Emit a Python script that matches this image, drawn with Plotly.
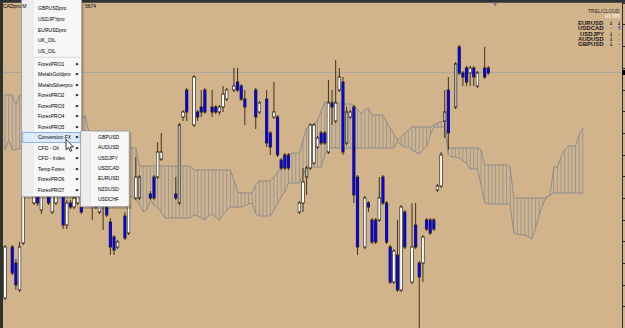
import plotly.graph_objects as go

# ---------------- data (price levels, arbitrary units) ----------------
bar_index = list(range(134))
open_ = [30, None, 81, 65, 38, 85, None, None, 125, 143,
         118, None, 138, 116, 125, None, 133, 103, 125, 121,
         125, 121, None, None, 133, 130, 116, 133, 128, 106,
         91, 81, None, 112, 95, None, 130, 130, None, None,
         134, 151, 151, 169, None, None, None, 134, 125, 211,
         238, None, 203, 216, 221, 238, None, 221, 221, 216,
         221, 229, None, 238, 246, 242, 229, None, None, 238,
         216, None, 229, 195, 211, 211, 168, 173, 173, None,
         None, 116, 125, 151, 160, 165, 181, 195, 195, 176,
         225, 207, 238, 246, 185, 211, 221, 151, None, 81,
         125, 108, 108, 108, 151, 125, 81, 46, 73, 38,
         116, None, 46, 103, 65, 65, 108, 108, 108, 138,
         142, 207, 238, None, 221, 281, 255, 260, 255, 260,
         242, None, 260, 260]
high = [83, None, 83, 69, 86, 143, None, None, 148, 146,
        140, None, 141, 142, 141, None, 136, 128, 128, 133,
        135, 124, None, None, 136, 133, 134, 136, 131, 110,
        93, 88, None, 116, 126, None, 171, 153, None, None,
        137, 153, 186, 195, None, None, None, 151, 205, 218,
        240, None, 253, 218, 238, 240, None, 238, 223, 223,
        242, 240, None, 260, 260, 244, 238, None, None, 240,
        227, None, 238, 197, 246, 213, 170, 175, 175, None,
        None, 127, 160, 162, 205, 205, 192, 197, 197, 248,
        238, 268, 260, 251, 221, 218, 223, 153, None, 132,
        127, 110, 110, 151, 153, 127, 83, 79, 108, 123,
        118, None, 125, 125, 67, 93, 110, 110, 110, 144,
        176, 238, 251, None, 266, 283, 257, 262, 262, 262,
        257, None, 281, 262]
low = [28, None, 53, 38, 36, 83, None, None, 123, 122,
       114, None, 123, 114, 123, None, 99, 99, 119, 119,
       123, 114, None, None, 108, 119, 114, 98, 111, 73,
       73, 79, None, 88, 93, None, 128, 128, None, None,
       128, 128, 149, 167, None, None, None, 128, 123, 207,
       207, None, 201, 207, 211, 214, None, 211, 214, 213,
       216, 227, None, 236, 236, 227, 203, None, None, 199,
       214, None, 181, 173, 209, 171, 158, 158, 158, None,
       None, 114, 116, 133, 158, 163, 179, 183, 183, 174,
       203, 205, 236, 173, 183, 209, 125, 73, None, 79,
       116, 84, 84, 106, 123, 84, 44, 44, 36, 36,
       79, None, 44, 79, -2, 46, 97, 93, 97, 136,
       140, 190, 178, None, 219, 253, 242, 242, 242, 242,
       240, None, 249, 253]
close = [81, None, 55, 43, 81, 138, None, None, 143, 125,
         136, None, 125, 138, 138, None, 103, 125, 121, 130,
         132, 116, None, None, 122, 121, 131, 123, 113, 81,
         78, 86, None, 90, 123, None, 151, 151, None, None,
         130, 130, 176, 176, None, None, None, 130, 203, 216,
         216, None, 251, 211, 216, 216, None, 216, 216, 221,
         234, 238, None, 242, 238, 229, 221, None, None, 211,
         225, None, 185, 181, 216, 173, 160, 160, 160, None,
         None, 125, 146, 160, 203, 203, 190, 185, 185, 225,
         221, 225, 251, 176, 216, 216, 133, 81, None, 130,
         121, 86, 86, 130, 125, 86, 46, 77, 38, 121,
         81, None, 81, 81, 51, 91, 99, 95, 99, 142,
         173, 216, 195, None, 264, 255, 251, 246, 260, 251,
         255, None, 251, 255]
gray_bars = [37, 48, 83, 94, 121, 124]

cloud_index = list(range(160))
span_a = [233, 233, 233, 223, 233, 233, 230, 228, 228, 226,
          226, 223, 223, 220, 220, 218, 218, 216, 216, 213,
          203, 208, 213, 198, 193, 190, 188, 188, 186, 183,
          183, 182, 180, 180, 180, 180, 180, 162, 162, 162,
          162, 162, 162, 162, 162, 162, 162, 162, 162, 162,
          162, 162, 158, 158, 158, 158, 158, 158, 158, 158,
          158, 158, 158, 148, 136, 135, 135, 135, 135, 143,
          147, 147, 147, 147, 151, 156, 160, 163, 173, 175,
          175, 175, 188, 200, 201, 203, 208, 218, 226, 226,
          226, 226, 224, 224, 224, 224, 223, 218, 215, 218,
          220, 213, 213, 213, 213, 206, 200, 193, 188, 191,
          195, 198, 201, 201, 201, 201, 201, 201, 203, 205,
          206, 207, 180, 180, 180, 180, 180, 180, 180, 180,
          180, 178, 163, 163, 163, 163, 163, 163, 163, 161,
          130, 130, 130, 130, 130, 130, 130, 130, 130, 130,
          133, 161, 161, 171, 178, 182, 182, 182, 193, 200]
span_b = [178, 188, 178, 178, 180, 178, 178, 176, 176, 178,
          178, 178, 176, 176, 173, 173, 173, 170, 170, 170,
          168, 168, 168, 163, 163, 160, 158, 156, 153, 148,
          143, 138, 133, 131, 131, 131, 128, 123, 116, 118,
          128, 123, 121, 116, 110, 110, 110, 110, 110, 110,
          110, 110, 113, 112, 110, 108, 112, 114, 111, 108,
          114, 118, 121, 121, 121, 121, 122, 124, 125, 114,
          112, 112, 112, 112, 118, 125, 131, 136, 145, 145,
          145, 145, 153, 161, 161, 161, 161, 161, 173, 180,
          180, 180, 180, 180, 180, 180, 180, 180, 180, 180,
          180, 180, 180, 180, 180, 180, 180, 180, 187, 183,
          181, 181, 178, 176, 174, 178, 181, 193, 201, 201,
          201, 201, 173, 171, 171, 170, 167, 165, 159, 159,
          159, 143, 125, 124, 124, 124, 124, 124, 124, 124,
          95, 94, 93, 93, 91, 89, 100, 113, 123, 131,
          133, 135, 135, 135, 135, 135, 135, 135, 135, 135]
bid_price = 255.7

title_left = "CADpro,M"
title_right = "5674"
menu_items = ["GBPUSDpro", "USDJPYpro", "EURUSDpro", "UK_OIL", "US_OIL",
              "ForexPRO1", "MetalsGoldpro", "MetalsSilverpro", "ForexPRO2", "ForexPRO3",
              "ForexPRO4", "ForexPRO5", "Conversion FX", "CFD - Oil", "CFD - Index",
              "Temp Forex", "ForexPRO6", "ForexPRO7"]
menu_has_sub = [False] * 5 + [True] * 13
menu_selected = "Conversion FX"
submenu_items = ["GBPUSD", "AUDUSD", "USDJPY", "USDCAD", "EURUSD", "NZDUSD", "USDCHF"]
panel_title = "TREL/CLOUD"
panel_tfs = "H1 M5"
panel_pairs = ["EURUSD", "USDCAD", "USDJPY", "AUDUSD", "GBPUSD"]
panel_h1 = ["down", "flat", "down", "down", "down"]
panel_m5 = ["down", "up", "flat", "flat", "flat"]

# ---------------- styling / geometry ----------------
W, H = 625, 328
BAR_PX = 3.634
FIRST_PX = 5.0
TAN = "#D2B48C"
FONT = "Liberation Sans"
EDGE = "#2a2214"


def X(px):
    return px / W


def Y(py):
    return 1 - py / H


fig = go.Figure()


def segs(xs, los, his):
    sx, sy = [], []
    for x, lo, hi in zip(xs, los, his):
        sx += [x, x, None]
        sy += [lo, hi, None]
    return sx, sy


# Ichimoku cloud hatch + span lines
hx, hy = segs(cloud_index, span_a, span_b)
fig.add_trace(go.Scatter(x=hx, y=hy, mode="lines", line=dict(color="#979797", width=1),
                         hoverinfo="skip"))
for s in (span_a, span_b):
    fig.add_trace(go.Scatter(x=cloud_index, y=s, mode="lines",
                             line=dict(color="#8c8c8c", width=1), hoverinfo="skip"))

# candles
valid = [i for i in bar_index if open_[i] is not None]
wx, wy = segs(valid, [low[i] for i in valid], [high[i] for i in valid])
fig.add_trace(go.Scatter(x=wx, y=wy, mode="lines", line=dict(color="#3e321d", width=1),
                         hoverinfo="skip"))

body_lo = {i: min(open_[i], close[i]) for i in valid}
body_hi = {i: max(open_[i], close[i], min(open_[i], close[i]) + 1) for i in valid}
ox, oy = segs(valid, [body_lo[i] - 0.5 for i in valid], [body_hi[i] + 0.5 for i in valid])
fig.add_trace(go.Scatter(x=ox, y=oy, mode="lines", line=dict(color=EDGE, width=3.2),
                         hoverinfo="skip"))

fills = {"up": "#FFFFFF", "down": "#0000FF", "gray": "#B8B8B8"}
for key, col in fills.items():
    members = [i for i in valid
               if ("gray" if i in gray_bars else ("up" if close[i] >= open_[i] else "down")) == key
               and body_hi[i] - body_lo[i] > 1.2]
    fx, fy = segs(members, [body_lo[i] + 0.5 for i in members], [body_hi[i] - 0.5 for i in members])
    fig.add_trace(go.Scatter(x=fx, y=fy, mode="lines", line=dict(color=col, width=2.0),
                             hoverinfo="skip"))

shapes = []
# bid line
shapes.append(dict(type="line", xref="paper", yref="y", x0=0, x1=X(621), y0=bid_price, y1=bid_price,
                   line=dict(color="#A3A3A3", width=1), layer="below"))


def rect(x0, y0, x1, y1, fill, line=None, lw=0):
    shapes.append(dict(type="rect", xref="paper", yref="paper", x0=X(x0), x1=X(x1),
                       y0=Y(y1), y1=Y(y0), fillcolor=fill,
                       line=dict(color=line or fill, width=lw), layer="above"))


# frame
rect(0, 0, 3, H, "#303133")
rect(0, 0, W, 2.7, "#303133")
rect(622, 70, 625, 75, "#000000")

annotations = []


def text(px, py, s, size=5, color="#000000", anchor="left", bold=False, family=FONT):
    annotations.append(dict(x=X(px), y=Y(py), xref="paper", yref="paper",
                            text=("<b>%s</b>" % s) if bold else s,
                            showarrow=False, xanchor=anchor, yanchor="middle",
                            font=dict(size=size, family=family, color=color)))


# chart title pieces
text(0.5, 6.5, title_left, size=5)
text(83, 6.5, title_right, size=5)
text(495, 3.6, "▼", size=5, color="#6f7f90", anchor="center", family="DejaVu Sans")

# indicator panel
text(622, 11.5, panel_title, size=5, color="#2a2a2a", anchor="right")
text(622, 16.5, panel_tfs, size=5, color="#f4eddc", anchor="right", bold=True)
glyph = {"down": ("↓", "#111111", 5), "up": ("↑", "#1a2cff", 5), "flat": ("·", "#555555", 5)}
for k, (p, a, b) in enumerate(zip(panel_pairs, panel_h1, panel_m5)):
    yy = 23.2 + 5.25 * k
    text(605.5, yy, p, size=6, color="#161616", anchor="right", bold=True)
    g, col, sz = glyph[a]
    text(610.5, yy, g, size=sz, color=col, anchor="center", bold=True, family="DejaVu Sans")
    g, col, sz = glyph[b]
    text(619, yy, g, size=sz, color=col, anchor="center", bold=True, family="DejaVu Sans")

# main menu
rect(23.5, -2, 83.7, 198.7, "rgba(0,0,0,0.22)")
rect(21.7, -2, 81.7, 196.7, "#F7F7F7", "#9a9a9a", 1)
rect(22.2, -2, 32.7, 196.2, "#ECECEC")
rect(32.7, -2, 33.4, 196.2, "#E1E1E1")
shapes.append(dict(type="line", xref="paper", yref="paper", x0=X(34), x1=X(80), y0=Y(57.3), y1=Y(57.3),
                   line=dict(color="#D6D6D6", width=1), layer="above"))
for k, (item, sub) in enumerate(zip(menu_items, menu_has_sub)):
    yy = 8.3 + 10.6 * k if k < 5 else 64 + 10.47 * (k - 5)
    if item == menu_selected:
        rect(22.7, yy - 4.8, 80.2, yy + 5.2, "#DCEAF9", "#8DB2E3", 1)
    text(36.2, yy, item, size=5)
    if sub:
        text(77.5, yy, "▶", size=3.5, anchor="center", family="DejaVu Sans")

# submenu
rect(82.5, 133, 131.3, 208.7, "rgba(0,0,0,0.22)")
rect(80.7, 131, 129.3, 206.7, "#F7F7F7", "#9a9a9a", 1)
rect(81.2, 131.5, 90, 206.2, "#ECECEC")
rect(90, 131.5, 90.7, 206.2, "#E1E1E1")
for k, item in enumerate(submenu_items):
    text(95.5, 136.7 + 10.43 * k, item, size=5)

# mouse cursor
cx, cy, s = 66.0, 139.3, 1.0
pts = [(0, 0), (0, 10.5), (2.5, 8.2), (4.3, 12), (5.9, 11.3), (4.1, 7.6), (7.4, 7.6)]
path = "M " + " L ".join("%.5f,%.5f" % (X(cx + px * s), Y(cy + py * s)) for px, py in pts) + " Z"
shapes.append(dict(type="path", xref="paper", yref="paper", path=path, fillcolor="#FFFFFF",
                   line=dict(color="#000000", width=0.8), layer="above"))

fig.update_layout(
    width=W, height=H, margin=dict(l=0, r=0, t=0, b=0),
    paper_bgcolor=TAN, plot_bgcolor=TAN, showlegend=False,
    shapes=shapes, annotations=annotations,
    xaxis=dict(range=[-FIRST_PX / BAR_PX, (W - FIRST_PX) / BAR_PX], visible=False, fixedrange=True),
    yaxis=dict(range=[0, H], showgrid=False, zeroline=False, showticklabels=False,
               side="right", anchor="free", position=621.5 / W, showline=True,
               linecolor="#2e2e2e", linewidth=1, ticks="outside", ticklen=2,
               tickcolor="#2e2e2e", tick0=21.3, dtick=21.67, fixedrange=True),
)

fig.write_html("out.html")
